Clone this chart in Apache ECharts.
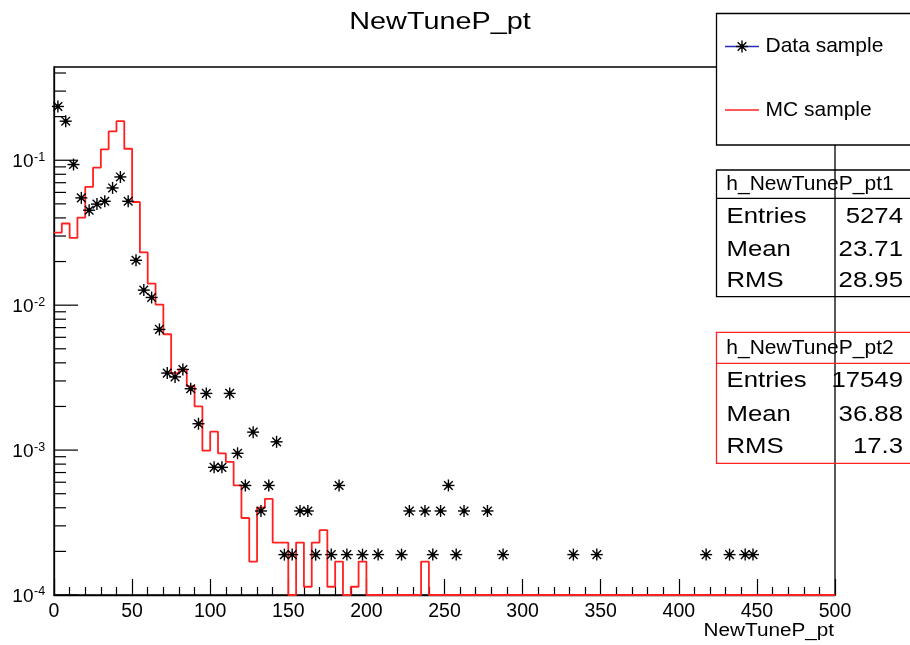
<!DOCTYPE html>
<html><head><meta charset="utf-8">
<script src="https://cdn.jsdelivr.net/npm/echarts@6/dist/echarts.min.js"></script>
<style>html,body{margin:0;padding:0;background:#fff}#c{width:910px;height:645px}</style>
</head><body><div id="c"></div>
<script>
const FONT = '"Liberation Sans", Arial, Helvetica, sans-serif';
const titleText = 'NewTuneP_pt';
const xAxisTitle = 'NewTuneP_pt';
const xMin = 0, xMax = 500, xStep = 50;
const yMin = 1e-4, yMax = 0.44;
const yDecades = [-4, -3, -2, -1];
const binLow = 0, binWidth = 5;

// Data sample (markers at bin centres)
const dataX = [2.5, 7.5, 12.5, 17.5, 22.5, 27.5, 32.5, 37.5, 42.5, 47.5,
  52.5, 57.5, 62.5, 67.5, 72.5, 77.5, 82.5, 87.5, 92.5, 97.5,
  102.5, 107.5, 112.5, 117.5, 122.5, 127.5, 132.5, 137.5, 142.5, 147.5,
  152.5, 157.5, 162.5, 167.5, 177.5, 182.5, 187.5, 197.5, 207.5, 222.5,
  227.5, 237.5, 242.5, 247.5, 252.5, 257.5, 262.5, 277.5, 287.5, 332.5,
  347.5, 417.5, 432.5, 442.5, 447.5];
const dataY = [0.235, 0.186, 0.0934, 0.055, 0.0452, 0.0498, 0.0521, 0.0644, 0.0767, 0.0521,
  0.0204, 0.0127, 0.0113, 0.0068, 0.0034, 0.0032, 0.0036, 0.00265, 0.00152, 0.00246,
  0.00076, 0.00076, 0.00246, 0.00095, 0.00057, 0.00133, 0.00038, 0.00057, 0.00114, 0.00019,
  0.00019, 0.00038, 0.00038, 0.00019, 0.00019, 0.00057, 0.00019, 0.00019, 0.00019, 0.00019,
  0.00038, 0.00038, 0.00019, 0.00038, 0.00057, 0.00019, 0.00038, 0.00038, 0.00019, 0.00019,
  0.00019, 0.00019, 0.00019, 0.00019, 0.00019];

// MC sample histogram contents, 100 bins of width 5 from 0 to 500
const mcValues = [0.0317, 0.0366, 0.0291, 0.0402, 0.0655, 0.089, 0.119, 0.158, 0.186, 0.12,
  0.0515, 0.0231, 0.0141, 0.0101, 0.0063, 0.0034, 0.0036, 0.00276, 0.0020, 0.00099,
  0.00134, 0.00095, 0.00083, 0.00057, 0.00034, 0.00017, 0.00040, 0.00046, 0.00023, 0.00023,
  0, 0.00023, 0.000114, 0.00023, 0.00028, 0.000114, 0.00017, 0, 0.000114, 0.00017,
  0, 0, 0, 0, 0, 0, 0, 0.00017, 0, 0,
  0, 0, 0, 0, 0, 0, 0, 0, 0, 0,
  0, 0, 0, 0, 0, 0, 0, 0, 0, 0,
  0, 0, 0, 0, 0, 0, 0, 0, 0, 0,
  0, 0, 0, 0, 0, 0, 0, 0, 0, 0,
  0, 0, 0, 0, 0, 0, 0, 0, 0, 0];

const legendNames = ['Data sample', 'MC sample'];
const statsLabels = ['Entries', 'Mean', 'RMS'];
const stats1Name = 'h_NewTuneP_pt1';
const stats1Values = ['5274', '23.71', '28.95'];
const stats2Name = 'h_NewTuneP_pt2';
const stats2Values = ['17549', '36.88', '17.3'];

const mcLine = mcValues.map((v, i) => [binLow + i * binWidth, Math.max(v, yMin)]);
mcLine.push([xMax, Math.max(mcValues[mcValues.length - 1], yMin)]);
const markerData = dataX.map((x, i) => [x, dataY[i]]);

const yTicks = [];
yDecades.forEach(e => {
  const base = Math.pow(10, e);
  yTicks.push([base, 24]);
  for (let m = 2; m <= 9; m++) { const v = m * base; if (v <= yMax) yTicks.push([v, 12]); }
});

function starShapes(cx, cy, r, color, z) {
  const d = r * 0.72;
  const ls = { stroke: color, lineWidth: 1.4 };
  const out = [
    { type: 'line', shape: { x1: cx - r, y1: cy, x2: cx + r, y2: cy }, style: ls },
    { type: 'line', shape: { x1: cx, y1: cy - r, x2: cx, y2: cy + r }, style: ls },
    { type: 'line', shape: { x1: cx - d, y1: cy - d, x2: cx + d, y2: cy + d }, style: ls },
    { type: 'line', shape: { x1: cx - d, y1: cy + d, x2: cx + d, y2: cy - d }, style: ls },
    { type: 'circle', shape: { cx: cx, cy: cy, r: 2.2 }, style: { fill: color } }
  ];
  if (z != null) out.forEach(o => { o.z = z; });
  return out;
}

function statsBox(top, sep, bottom, color, name, values, rowsY) {
  const els = [
    { type: 'rect', shape: { x: 716.5, y: top, width: 260, height: bottom - top }, style: { fill: null, stroke: color, lineWidth: 1.3 }, z: 100 },
    { type: 'line', shape: { x1: 716.5, y1: sep, x2: 910, y2: sep }, style: { stroke: color, lineWidth: 1.3 }, z: 100 },
    { type: 'text', x: 810, y: (top + sep) / 2 + 0.5, style: { text: name, font: '21px ' + FONT, fill: '#000', textAlign: 'center', textVerticalAlign: 'middle' }, z: 101 }
  ];
  statsLabels.forEach((lab, i) => {
    els.push({ type: 'text', x: 726.5, y: rowsY[i], scaleX: 1.17, style: { text: lab, font: '22px ' + FONT, fill: '#000', textAlign: 'left', textVerticalAlign: 'middle' }, z: 101 });
    els.push({ type: 'text', x: 903, y: rowsY[i], scaleX: 1.17, style: { text: values[i], font: '22px ' + FONT, fill: '#000', textAlign: 'right', textVerticalAlign: 'middle' }, z: 101 });
  });
  return els;
}

const chart = echarts.init(document.getElementById('c'), null, { renderer: 'canvas' });

chart.setOption({
  animation: false,
  backgroundColor: '#fff',
  grid: { left: 54, right: 75, top: 67, bottom: 50, show: true, borderColor: '#000', borderWidth: 1.3, backgroundColor: 'transparent' },
  xAxis: {
    type: 'value', min: xMin, max: xMax, interval: xStep,
    axisLine: { show: true, onZero: false, lineStyle: { color: '#000', width: 1.3 } },
    axisTick: { show: true, inside: true, length: 16, lineStyle: { color: '#000', width: 1.2 } },
    minorTick: { show: true, splitNumber: 5, length: 8, lineStyle: { color: '#000', width: 1.2 } },
    axisLabel: { color: '#000', fontSize: 19.5, fontFamily: FONT, margin: 7 },
    splitLine: { show: false }
  },
  yAxis: {
    type: 'log', logBase: 10, min: yMin, max: yMax,
    axisLine: { show: true, lineStyle: { color: '#000', width: 1.3 } },
    axisTick: { show: false },
    splitLine: { show: false },
    axisLabel: { show: false }
  },
  series: [
    {
      type: 'custom', name: 'yticks', coordinateSystem: 'cartesian2d', silent: true, z: 3,
      data: yTicks,
      renderItem: function (params, api) {
        const p = api.coord([xMin, api.value(0)]);
        return { type: 'line', shape: { x1: p[0], y1: p[1], x2: p[0] + api.value(1), y2: p[1] }, style: { stroke: '#000', lineWidth: 1.2 } };
      }
    },
    {
      type: 'line', name: legendNames[1], data: mcLine, step: 'end', symbol: 'none', z: 4,
      lineStyle: { color: '#ff2020', width: 1.8 }
    },
    {
      type: 'custom', name: legendNames[0], coordinateSystem: 'cartesian2d', z: 5,
      data: markerData,
      renderItem: function (params, api) {
        const p = api.coord([api.value(0), api.value(1)]);
        return { type: 'group', children: starShapes(p[0], p[1], 6, '#000') };
      }
    }
  ]
});

// y-axis decade labels (10^n), positioned through the axis scale
const yLabelEls = [];
yDecades.forEach(e => {
  const py = chart.convertToPixel({ yAxisIndex: 0 }, Math.pow(10, e));
  yLabelEls.push({ type: 'text', x: 33.5, y: py + 2, style: { text: '10', font: '19px ' + FONT, fill: '#000', textAlign: 'right', textVerticalAlign: 'middle' }, z: 101 });
  yLabelEls.push({ type: 'text', x: 34, y: py - 3, style: { text: String(e), font: '12.5px ' + FONT, fill: '#000', textAlign: 'left', textVerticalAlign: 'middle' }, z: 101 });
});

const graphics = [
  { type: 'text', x: 440, y: 22, scaleX: 1.2, style: { text: titleText, font: '24px ' + FONT, fill: '#000', textAlign: 'center', textVerticalAlign: 'middle' }, z: 101 },
  { type: 'text', x: 834, y: 631, scaleX: 1.15, style: { text: xAxisTitle, font: '18px ' + FONT, fill: '#000', textAlign: 'right', textVerticalAlign: 'middle' }, z: 101 },
  { type: 'rect', shape: { x: 716.5, y: 13.5, width: 260, height: 131.5 }, style: { fill: '#fff', stroke: '#000', lineWidth: 1.3 }, z: 100 },
  { type: 'line', shape: { x1: 725, y1: 46.5, x2: 759, y2: 46.5 }, style: { stroke: '#2b2bb8', lineWidth: 1.3 }, z: 101 },
  { type: 'text', x: 765.5, y: 46.5, style: { text: legendNames[0], font: '21px ' + FONT, fill: '#000', textAlign: 'left', textVerticalAlign: 'middle' }, z: 101 },
  { type: 'line', shape: { x1: 725, y1: 110, x2: 759, y2: 110 }, style: { stroke: '#ff2020', lineWidth: 1.6 }, z: 101 },
  { type: 'text', x: 765.5, y: 110, style: { text: legendNames[1], font: '21px ' + FONT, fill: '#000', textAlign: 'left', textVerticalAlign: 'middle' }, z: 101 }
].concat(starShapes(742, 46.5, 6, '#000', 102))
 .concat(statsBox(170, 198.3, 296.7, '#000', stats1Name, stats1Values, [216.5, 249.5, 281]))
 .concat(statsBox(332.3, 363.3, 463.3, '#ff2020', stats2Name, stats2Values, [381, 414.5, 446.5]))
 .concat(yLabelEls);

chart.setOption({ graphic: graphics });
</script></body></html>
